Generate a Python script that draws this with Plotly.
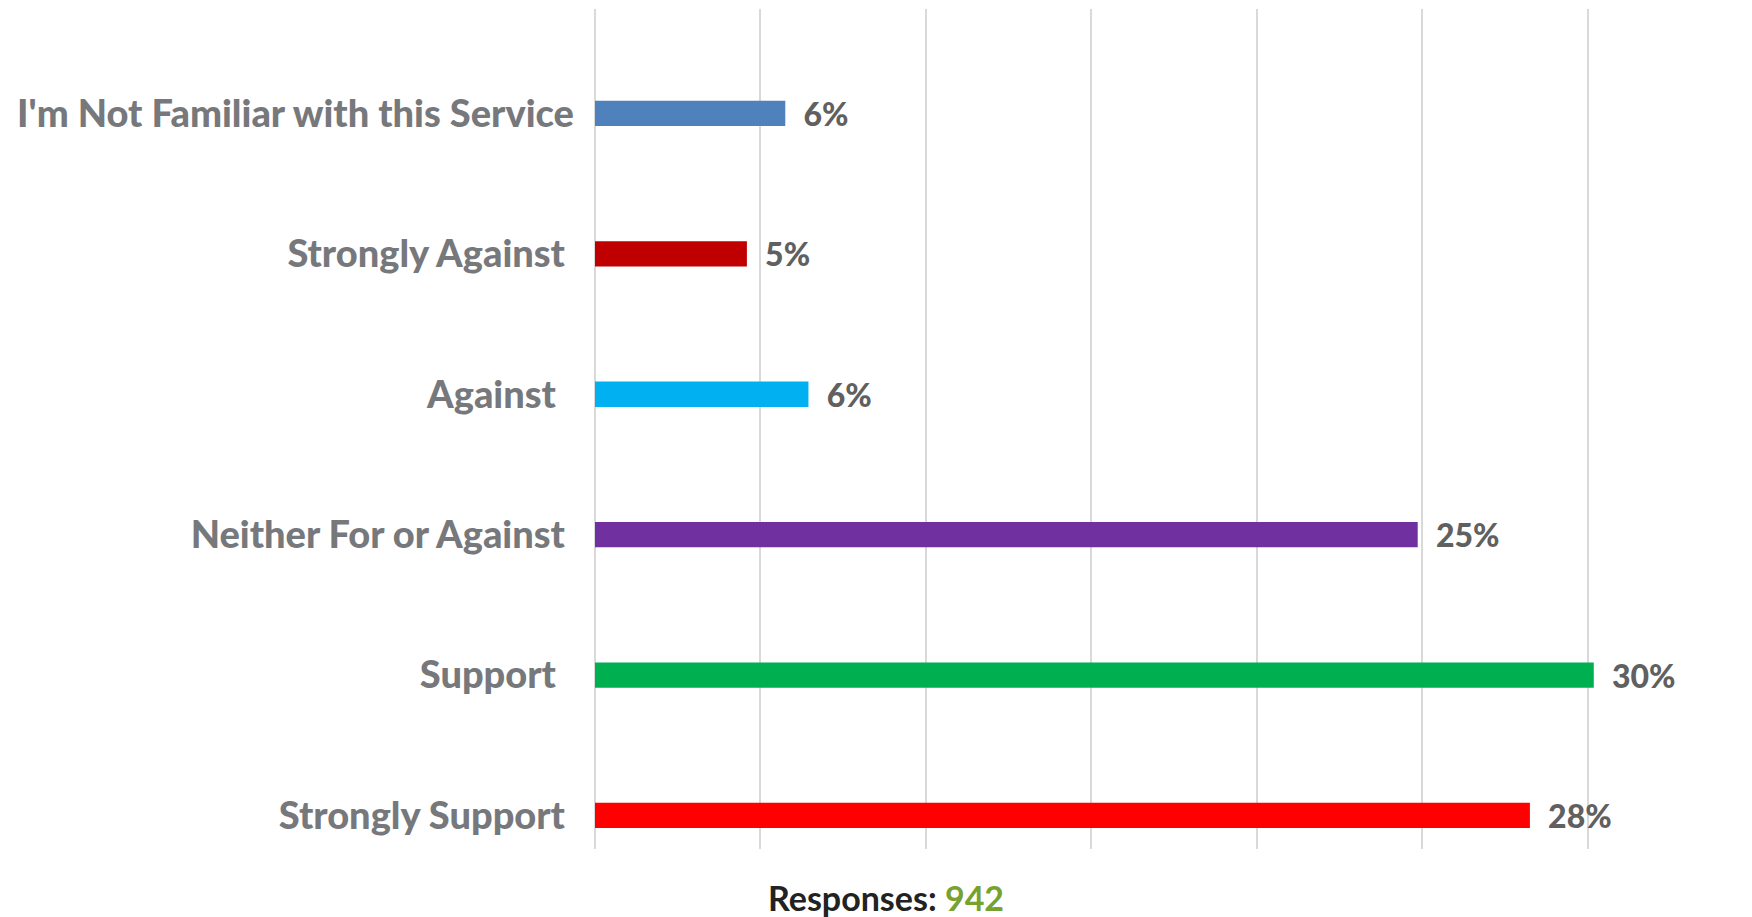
import plotly.graph_objects as go

categories = ["Strongly Support", "Support", "Neither For or Against", "Against",
              "Strongly Against", "I'm Not Familiar with this Service"]
tick_labels = ["Strongly Support\u00a0", "Support\u00a0\u00a0", "Neither For or Against\u00a0",
               "Against\u00a0\u00a0", "Strongly Against\u00a0", "I'm Not Familiar with this Service"]
values = [0.2825, 0.3018, 0.2486, 0.0645, 0.0459, 0.0575]
colors = ["#ff0000", "#00b050", "#7030a0", "#00b0f0", "#c00000", "#4f81bd"]
responses = 942

# page body has an 8px margin; compensate so the figure fits the 1752x917 window
W, H = 1744, 909
ml, mr, mt, mb = 587, 98, 1, 68

fig = go.Figure()
fig.add_trace(go.Bar(
    y=categories, x=values, orientation="h",
    marker=dict(color=colors, line=dict(width=0)),
    width=0.18,
    texttemplate="\u00a0\u00a0%{x:.0%}",
    textposition="outside",
    constraintext="none",
    cliponaxis=False,
    textfont=dict(family="Lato", size=32, color="#606060", weight=900),
    hoverinfo="skip",
))

fig.update_layout(
    width=W, height=H,
    margin=dict(l=ml, r=mr, t=mt, b=mb, pad=0),
    plot_bgcolor="white", paper_bgcolor="white",
    showlegend=False,
    xaxis=dict(range=[0, 0.32], dtick=0.05, tick0=0, showgrid=True, gridcolor="#d9d9d9",
               gridwidth=2, zeroline=True, zerolinecolor="#d9d9d9", zerolinewidth=2,
               showticklabels=False, showline=False, fixedrange=True),
    yaxis=dict(categoryorder="array", categoryarray=categories,
               tickmode="array", tickvals=categories, ticktext=tick_labels,
               range=[-0.239, 5.744], showgrid=False, zeroline=False, showline=False,
               ticklabelstandoff=20,
               tickfont=dict(family="Lato", size=38, color="#76787c", weight=900)),
    annotations=[dict(
        xref="paper", yref="paper", x=(878 - ml) / (W - ml - mr), y=-48 / (H - mt - mb),
        xanchor="center", yanchor="middle", showarrow=False,
        text=f"Responses: <span style='color:#77a22f'>{responses}</span>",
        font=dict(family="Lato", size=34, color="#222222", weight="bold"),
    )],
)

fig.write_html("out.html")
